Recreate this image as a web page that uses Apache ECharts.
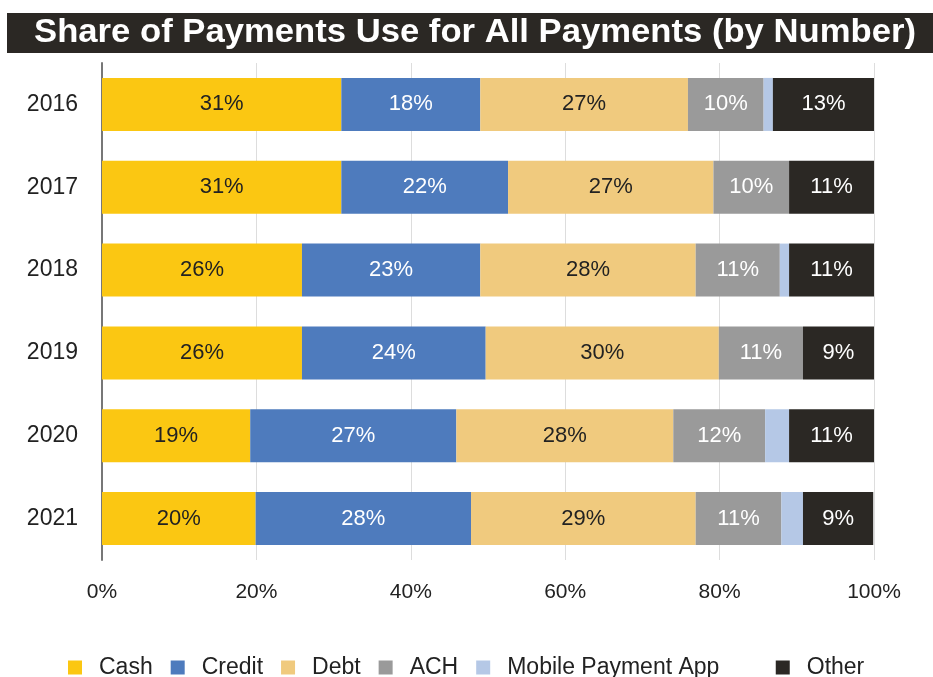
<!DOCTYPE html>
<html>
<head>
<meta charset="utf-8">
<script src="https://cdn.jsdelivr.net/npm/echarts@6/dist/echarts.min.js"></script>
<style>
  html, body { margin: 0; padding: 0; background: #fff; }
  #chart { width: 933px; height: 677px; }
</style>
</head>
<body>
<div id="chart"></div>
<script>
const years = ['2016', '2017', '2018', '2019', '2020', '2021']
const cash = [31, 31, 25.9, 25.9, 19.2, 19.9]
const credit = [18, 21.6, 23.1, 23.8, 26.7, 27.9]
const debt = [26.9, 26.6, 27.9, 30.2, 28.1, 29.1]
const ach = [9.8, 9.8, 10.9, 10.9, 11.9, 11.1]
const mobile = [1.2, 0, 1.2, 0, 3.1, 2.8]
const other = [13.1, 11, 11, 9.2, 11, 9.1]
const xTicks = [0, 20, 40, 60, 80, 100]

const font = '"Liberation Sans", Arial, Helvetica, sans-serif'

function seriesOf(name, data, color, labelColor) {
  return {
    name,
    type: 'bar',
    stack: 'total',
    data,
    barCategoryGap: '36%',
    itemStyle: { color },
    label: {
      show: labelColor != null,
      position: 'inside',
      color: labelColor,
      fontSize: 22,
      fontFamily: font,
      formatter: p => `${Math.round(p.value)}%`,
    },
    emphasis: { disabled: true },
  }
}

const chart = echarts.init(document.getElementById('chart'))
chart.setOption({
  animation: false,
  graphic: [
    {
      type: 'rect',
      shape: { x: 7, y: 13, width: 926, height: 40 },
      style: { fill: '#2b2824' },
      z: 0,
    },
    {
      type: 'text',
      x: 475,
      y: 33,
      scaleX: 1.05,
      style: {
        text: 'Share of Payments Use for All Payments (by Number)',
        fill: '#fff',
        font: 'bold 33px "Liberation Sans", Arial, sans-serif',
        align: 'center',
        verticalAlign: 'middle',
      },
      z: 1,
    },
  ],
  legend: {
    left: 68,
    top: 656,
    padding: 0,
    itemWidth: 14,
    itemHeight: 14,
    itemGap: 18,
    icon: 'rect',
    textStyle: { color: '#222', fontSize: 23, fontFamily: font, padding: [0, 0, 0, 12] },
    // the reference leaves a wider gap before "Other"
    formatter: name => (name === 'Mobile Payment App' ? name + '      ' : name),
    data: ['Cash', 'Credit', 'Debt', 'ACH', 'Mobile Payment App', 'Other'],
  },
  grid: { left: 102, right: 59, top: 63, bottom: 117, containLabel: false },
  xAxis: {
    type: 'value',
    min: 0,
    max: 100,
    interval: 20,
    axisLine: { show: false },
    axisTick: { show: false },
    axisLabel: {
      color: '#222',
      fontSize: 21,
      fontFamily: font,
      margin: 22,
      formatter: v => (xTicks.includes(v) ? `${v}%` : ''),
    },
    splitLine: { lineStyle: { color: '#dddddd', width: 1 } },
  },
  yAxis: {
    type: 'category',
    data: years,
    inverse: true,
    axisLine: { lineStyle: { color: '#777', width: 2 } },
    axisTick: { show: false },
    axisLabel: { color: '#222', fontSize: 23, fontFamily: font, margin: 24 },
  },
  series: [
    seriesOf('Cash', cash, '#fbc712', '#222'),
    seriesOf('Credit', credit, '#4e7bbd', '#fff'),
    seriesOf('Debt', debt, '#f0ca7e', '#222'),
    seriesOf('ACH', ach, '#9a9a9a', '#fff'),
    seriesOf('Mobile Payment App', mobile, '#b5c8e6', null),
    seriesOf('Other', other, '#2b2824', '#fff'),
  ],
})
</script>
</body>
</html>
